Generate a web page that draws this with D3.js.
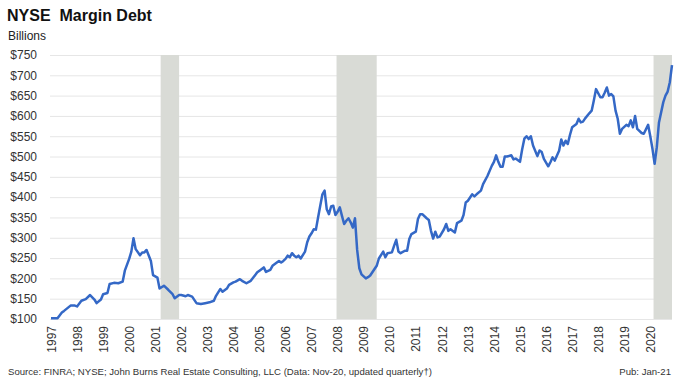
<!DOCTYPE html>
<html lang="en">

<head>
    <meta charset="UTF-8" />
    <title>NYSE Margin Debt</title>
    <script src="https://d3js.org/d3.v7.min.js"></script>
    <style>
        body {
            margin: 0;
            background: #fff;
            font-family: "Liberation Sans", Arial, sans-serif;
        }
    </style>
</head>

<body>
    <div id="chart"></div>

    <script>
        // monthly readings (billions of dollars)
        const dates = [
            "1997-01", "1997-04", "1997-06", "1997-07", "1997-10", "1997-12",
            "1998-01", "1998-03", "1998-05", "1998-07", "1998-09", "1998-10", "1998-12",
            "1999-01", "1999-03", "1999-04", "1999-06", "1999-08", "1999-10", "1999-11",
            "2000-01", "2000-02", "2000-03", "2000-04", "2000-06", "2000-07", "2000-08", "2000-09", "2000-11", "2000-12",
            "2001-02", "2001-03", "2001-05", "2001-07", "2001-09", "2001-10", "2001-12",
            "2002-01", "2002-03", "2002-04", "2002-06", "2002-08", "2002-10", "2002-12",
            "2003-02", "2003-04", "2003-05", "2003-07", "2003-08", "2003-10", "2003-11",
            "2004-01", "2004-02", "2004-04", "2004-05", "2004-07", "2004-09", "2004-12",
            "2005-01", "2005-03", "2005-04", "2005-06", "2005-07", "2005-09", "2005-10", "2005-11", "2005-12",
            "2006-01", "2006-02", "2006-03", "2006-04", "2006-05", "2006-06", "2006-07", "2006-08", "2006-10", "2006-11", "2006-12",
            "2007-01", "2007-02", "2007-03", "2007-04", "2007-05", "2007-06", "2007-07", "2007-08", "2007-09", "2007-10", "2007-11", "2007-12",
            "2008-01", "2008-02", "2008-03", "2008-04", "2008-05", "2008-06", "2008-07", "2008-08", "2008-09", "2008-10", "2008-11", "2008-12",
            "2009-01", "2009-02", "2009-03", "2009-04", "2009-05", "2009-07", "2009-08", "2009-10", "2009-11", "2009-12",
            "2010-02", "2010-03", "2010-04", "2010-05", "2010-06", "2010-08", "2010-09", "2010-10", "2010-11",
            "2011-01", "2011-02", "2011-03", "2011-04", "2011-06", "2011-07", "2011-08", "2011-09", "2011-10", "2011-11", "2011-12",
            "2012-02", "2012-03", "2012-04", "2012-05", "2012-07", "2012-08", "2012-10", "2012-11", "2012-12",
            "2013-01", "2013-03", "2013-04", "2013-05", "2013-07", "2013-08", "2013-10", "2013-12",
            "2014-01", "2014-02", "2014-03", "2014-04", "2014-05", "2014-06", "2014-07", "2014-09", "2014-10", "2014-11",
            "2015-01", "2015-02", "2015-03", "2015-04", "2015-05", "2015-06", "2015-07", "2015-09", "2015-10", "2015-11", "2015-12",
            "2016-02", "2016-03", "2016-04", "2016-05", "2016-07", "2016-08", "2016-09", "2016-10", "2016-11", "2016-12",
            "2017-01", "2017-03", "2017-04", "2017-05", "2017-06", "2017-07", "2017-09", "2017-10", "2017-11", "2017-12",
            "2018-02", "2018-03", "2018-04", "2018-05", "2018-06", "2018-07", "2018-08", "2018-09", "2018-10", "2018-11", "2018-12",
            "2019-02", "2019-03", "2019-04", "2019-05", "2019-06", "2019-07", "2019-09", "2019-10", "2019-12",
            "2020-01", "2020-02", "2020-03", "2020-04", "2020-05", "2020-07", "2020-08", "2020-09", "2020-10", "2020-11"
        ];
        const values = [
            102, 102, 116, 120, 133, 133,
            131, 145, 149, 159, 148, 139, 148,
            161, 164, 186, 189, 188, 192, 219,
            248, 266, 299, 272, 257, 264, 264, 270, 243, 208,
            202, 175, 182, 172, 161, 151, 159,
            159, 156, 159, 155, 139, 137, 139,
            141, 145, 157, 174, 167, 175, 184,
            190, 192, 198, 194, 188, 194, 215,
            219, 227, 216, 221, 231, 239, 243, 239, 243,
            248, 256, 252, 262, 256, 252, 256, 249, 266, 289, 303,
            311, 321, 320, 350, 379, 407, 416, 370, 358, 377, 379, 356,
            364, 375, 354, 334, 342, 348, 338, 325, 348, 270, 225, 210,
            205, 200, 203, 207, 215, 231, 249, 266, 252, 262,
            264, 280, 295, 266, 262, 268, 268, 297, 309,
            315, 346, 358, 358, 348, 344, 317, 298, 315, 301, 303,
            321, 334, 317, 321, 313, 336, 342, 356, 387,
            391, 407, 402, 407, 416, 432, 452, 477,
            487, 503, 487, 475, 475, 500, 500, 503, 493, 495,
            487, 518, 544, 550, 543, 550, 527, 501, 515, 511, 494,
            476, 486, 498, 490, 514, 542, 527, 539, 531, 553,
            572, 580, 593, 584, 586, 594, 607, 613, 638, 666,
            646, 646, 657, 670, 650, 654, 648, 613, 593, 556, 568,
            578, 575, 589, 572, 600, 568, 558, 556, 578,
            550, 519, 482, 523, 584, 634, 650, 660, 683, 725
        ];

        const yearLabels = d3.range(1997, 2021).map(String);
        const yTicks = d3.range(100, 751, 50);

        // recessions (first month, last month)
        const recStart = ["2001-03", "2007-12", "2020-02"];
        const recEnd = ["2001-11", "2009-06", "2020-11"];

        const idx = s => (+s.slice(0, 4) - 1997) * 12 + (+s.slice(5, 7) - 1);
        const data = dates.map((d, i) => ({ m: idx(d), v: values[i] }));
        const lastM = idx(dates[dates.length - 1]);

        const W = 679, H = 379;
        const svg = d3.select("#chart")
            .append("svg")
            .attr("width", W)
            .attr("height", H)
            .style("font-family", "'Liberation Sans', Arial, sans-serif");

        const x = d3.scaleLinear().domain([0, lastM]).range([51, 672]);
        const y = d3.scaleLinear().domain([100, 750]).range([319, 55]);

        // Titre
        svg.append("text")
            .attr("x", 7).attr("y", 21)
            .style("font-size", "16px")
            .style("font-weight", "bold")
            .attr("fill", "#111")
            .attr("xml:space", "preserve")
            .text("NYSE  Margin Debt");

        svg.append("text")
            .attr("x", 8).attr("y", 40)
            .style("font-size", "12px")
            .attr("fill", "#222")
            .text("Billions");

        // Axe Y + grille
        const yAxis = svg.append("g")
            .attr("transform", "translate(50,0)")
            .call(d3.axisLeft(y).tickValues(yTicks).tickSize(-622).tickPadding(13).tickFormat(d => "$" + d));
        yAxis.select(".domain").remove();
        yAxis.selectAll("line").attr("stroke", "#e6e6e6").attr("stroke-width", 1);
        yAxis.selectAll("text")
            .style("font-size", "12px")
            .attr("fill", "#333");

        // Récessions
        svg.selectAll("rect.rec")
            .data(recStart.map((s, i) => [idx(s) + 0.5, Math.min(idx(recEnd[i]) + 1, lastM)]))
            .join("rect")
            .attr("class", "rec")
            .attr("x", d => x(d[0]))
            .attr("y", y(750))
            .attr("width", d => x(d[1]) - x(d[0]))
            .attr("height", y(100) - y(750))
            .attr("fill", "#d9dbd6");

        // Axe X
        const xAxis = svg.append("g")
            .attr("transform", `translate(0,${y(100)})`)
            .call(d3.axisBottom(x).tickValues(yearLabels.map((_, i) => i * 12)).tickSize(0).tickFormat((d, i) => yearLabels[i]));
        xAxis.select(".domain").remove();
        xAxis.selectAll("text")
            .attr("transform", "rotate(-90)")
            .attr("x", -7)
            .attr("y", 0)
            .attr("dy", "0.35em")
            .style("text-anchor", "end")
            .style("font-size", "12px")
            .attr("fill", "#333");

        // Courbe
        svg.append("path")
            .datum(data)
            .attr("fill", "none")
            .attr("stroke", "#3468c6")
            .attr("stroke-width", 2.5)
            .attr("stroke-linejoin", "round")
            .attr("d", d3.line().x(d => x(d.m)).y(d => y(d.v)));

        // Source
        svg.append("text")
            .attr("x", 8).attr("y", 375)
            .style("font-size", "9.6px")
            .attr("fill", "#333")
            .text("Source: FINRA;  NYSE;  John Burns Real Estate Consulting, LLC (Data: Nov-20, updated quarterly†)");

        svg.append("text")
            .attr("x", 671).attr("y", 375)
            .attr("text-anchor", "end")
            .style("font-size", "9.6px")
            .attr("fill", "#333")
            .text("Pub: Jan-21");
    </script>

</body>

</html>
